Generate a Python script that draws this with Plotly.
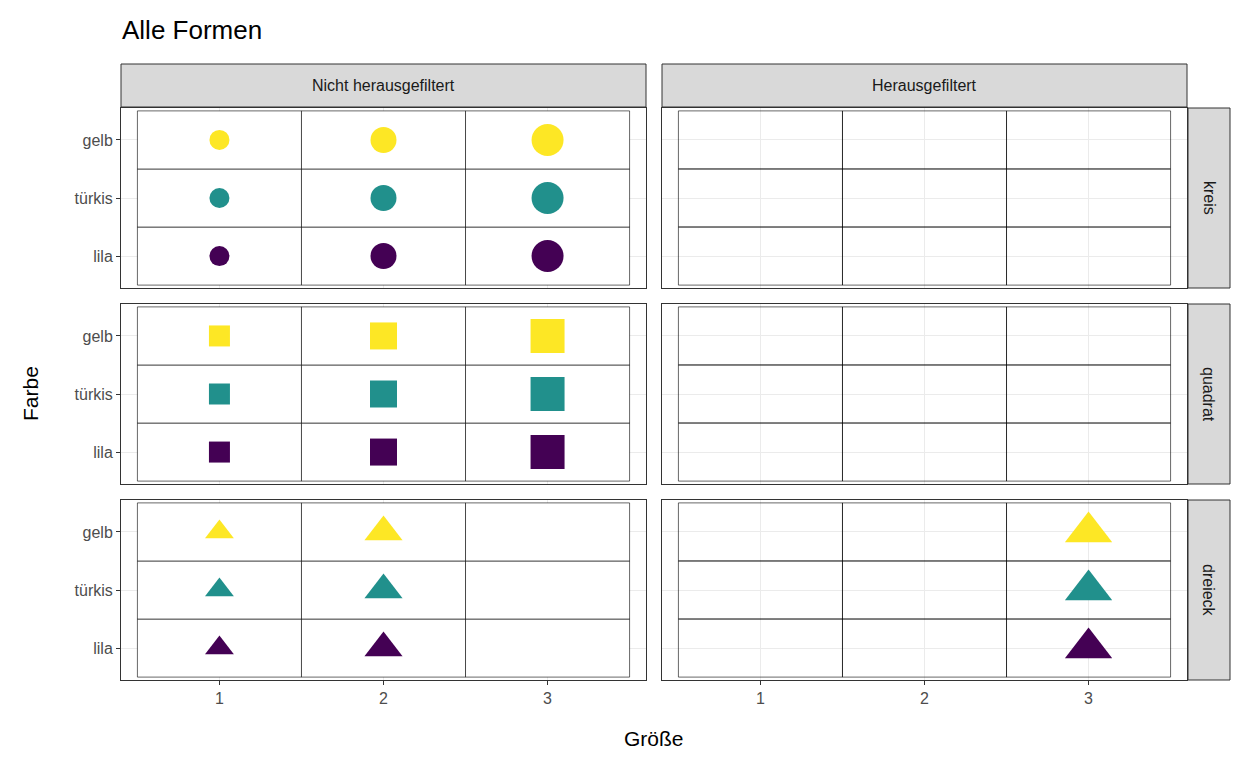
import plotly.graph_objects as go

# data
farben = ["lila", "türkis", "gelb"]
farb_werte = [1, 2, 3]
farb_hex = {"lila": "#440154", "türkis": "#21908C", "gelb": "#FDE725"}
formen = ["kreis", "quadrat", "dreieck"]
groessen = [1, 2, 3]
spalten = ["Nicht herausgefiltert", "Herausgefiltert"]
# which (form, groesse) combinations are filtered out
gefiltert = {("dreieck", 3)}

symbol = {"kreis": "circle", "quadrat": "square", "dreieck": "triangle-up"}
msize = {"kreis": [20, 26, 32], "quadrat": [21, 27, 34], "dreieck": [25, 33, 41]}

# page body has an 8px margin, so work in shifted pixel coords
OFF = 8
W, H = 1248 - 2 * OFF, 768 - 2 * OFF
px = lambda v: (v - OFF) / W
py = lambda v: 1 - (v - OFF) / H

xdom = [(px(121), px(646)), (px(662), px(1187))]
ypix = [(108, 288), (304, 484), (500, 680)]
ydom = [(py(b), py(t)) for t, b in ypix]

fig = go.Figure()
shapes = []
annotations = []
FONT = "Liberation Sans"

n = 0
for r, form in enumerate(formen):
    for c, sp in enumerate(spalten):
        n += 1
        sfx = "" if n == 1 else str(n)
        xa, ya = "x" + sfx, "y" + sfx
        fig.update_layout({
            "xaxis" + sfx: dict(domain=xdom[c], range=[0.4, 3.6], anchor=ya,
                                tickvals=groessen, showticklabels=(r == 2),
                                ticks="outside" if r == 2 else "", ticklen=4, tickcolor="#333",
                                showline=True, mirror=True, linecolor="#333", linewidth=1,
                                gridcolor="#ebebeb", gridwidth=1.3, zeroline=False,
                                tickfont=dict(size=16, color="#4d4d4d")),
            "yaxis" + sfx: dict(domain=ydom[r], range=[0.45, 3.55], anchor=xa,
                                tickvals=farb_werte, ticktext=farben, showticklabels=(c == 0),
                                ticks="outside" if c == 0 else "", ticklen=4, tickcolor="#333",
                                showline=True, mirror=True, linecolor="#333", linewidth=1,
                                gridcolor="#ebebeb", gridwidth=1.3, zeroline=False,
                                tickfont=dict(size=16, color="#4d4d4d")),
        })
        # tiles
        for g in groessen:
            for fv in farb_werte:
                shapes.append(dict(type="rect", xref=xa, yref=ya, x0=g - 0.5, x1=g + 0.5,
                                   y0=fv - 0.5, y1=fv + 0.5,
                                   layer="between" if c == 0 else "above",
                                   line=dict(color="black", width=0.6),
                                   fillcolor="white" if c == 0 else "rgba(0,0,0,0)"))
        xs, ys, cs, ss = [], [], [], []
        for g in groessen:
            if ((form, g) in gefiltert) != (c == 1):
                continue
            for f, fv in zip(farben, farb_werte):
                xs.append(g); ys.append(fv); cs.append(farb_hex[f]); ss.append(msize[form][g - 1])
        if xs:
            fig.add_trace(go.Scatter(x=xs, y=ys, xaxis=xa, yaxis=ya, mode="markers",
                                     marker=dict(symbol=symbol[form], size=ss, color=cs,
                                                 opacity=1, line_width=0),
                                     showlegend=False, hoverinfo="skip"))

# strips
for c, sp in enumerate(spalten):
    shapes.append(dict(type="rect", xref="paper", yref="paper", x0=xdom[c][0], x1=xdom[c][1],
                       y0=py(107), y1=py(64), fillcolor="#d9d9d9", line=dict(color="#333", width=1)))
    annotations.append(dict(text=sp, xref="paper", yref="paper", x=sum(xdom[c]) / 2,
                            y=py(85.5), xanchor="center", yanchor="middle", showarrow=False,
                            font=dict(size=16, color="#1a1a1a")))
for r, form in enumerate(formen):
    shapes.append(dict(type="rect", xref="paper", yref="paper", x0=px(1188), x1=px(1230),
                       y0=ydom[r][0], y1=ydom[r][1], fillcolor="#d9d9d9", line=dict(color="#333", width=1)))
    annotations.append(dict(text=form, xref="paper", yref="paper", x=px(1209),
                            y=sum(ydom[r]) / 2, xanchor="center", yanchor="middle",
                            showarrow=False, textangle=90,
                            font=dict(size=16, color="#1a1a1a")))

annotations.append(dict(text="Größe", xref="paper", yref="paper", x=px(654), y=py(738),
                        xanchor="center", yanchor="middle",
                        showarrow=False, font=dict(size=21, color="black")))
annotations.append(dict(text="Farbe", xref="paper", yref="paper", x=px(30), y=py(394),
                        xanchor="center", yanchor="middle",
                        showarrow=False, textangle=-90, font=dict(size=21, color="black")))
annotations.append(dict(text="Alle Formen", xref="paper", yref="paper", x=px(120), y=py(30),
                        xanchor="left", yanchor="middle", showarrow=False,
                        font=dict(size=26, color="black")))

fig.update_layout(width=W, height=H, margin=dict(l=0, r=0, t=0, b=0),
                  plot_bgcolor="white", paper_bgcolor="white",
                  font=dict(family=FONT), shapes=shapes, annotations=annotations)

fig.write_html("out.html")
